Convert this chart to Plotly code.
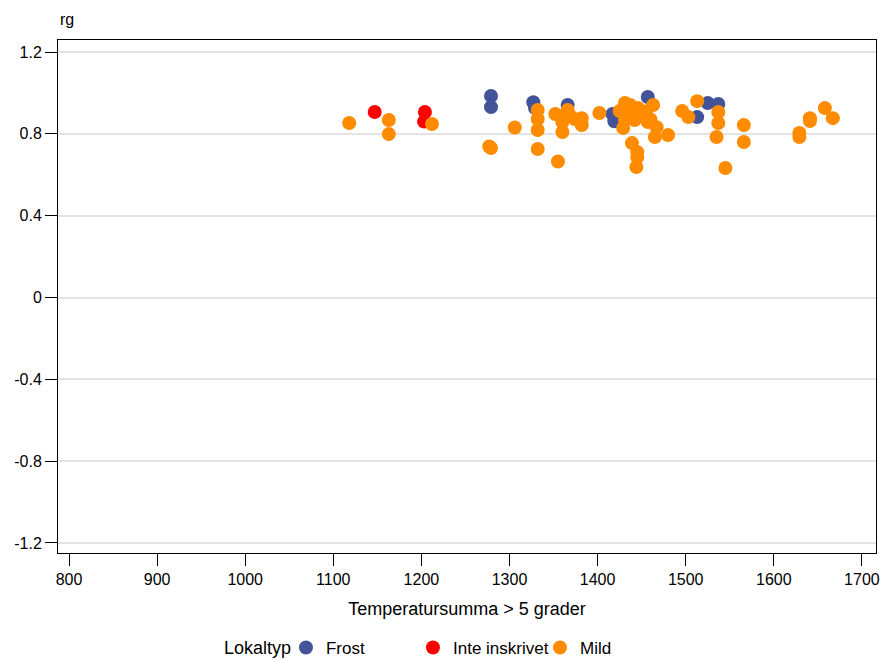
import plotly.graph_objects as go

# Frost
frost_x = [1279, 1279, 1327, 1329, 1366, 1417, 1419, 1457, 1513, 1525, 1537]
frost_y = [0.985, 0.931, 0.955, 0.926, 0.941, 0.897, 0.862, 0.980, 0.882, 0.951, 0.946]

# Inte inskrivet
inte_x = [1147, 1204, 1203]
inte_y = [0.907, 0.907, 0.860]

# Mild
mild_x = [1118, 1163, 1163, 1212, 1279, 1277, 1306, 1332, 1332, 1332, 1332,
          1352, 1355, 1360, 1360, 1366, 1369, 1374, 1382, 1382, 1402,
          1425, 1431, 1437, 1446, 1463, 1431, 1442, 1429, 1457, 1467, 1465,
          1480, 1439, 1445, 1445, 1444, 1433, 1450, 1440, 1455, 1460,
          1496, 1513, 1503, 1537, 1537, 1535, 1545, 1566, 1566,
          1629, 1629, 1641, 1641, 1658, 1667]
mild_y = [0.853, 0.868, 0.799, 0.848, 0.731, 0.738, 0.831, 0.917, 0.873, 0.819, 0.726,
          0.897, 0.665, 0.858, 0.809, 0.917, 0.887, 0.873, 0.877, 0.843, 0.902,
          0.912, 0.951, 0.941, 0.926, 0.941, 0.868, 0.868, 0.829, 0.858, 0.833, 0.785,
          0.794, 0.755, 0.711, 0.687, 0.638, 0.900, 0.890, 0.920, 0.910, 0.870,
          0.912, 0.960, 0.882, 0.907, 0.853, 0.785, 0.633, 0.843, 0.760,
          0.804, 0.785, 0.877, 0.863, 0.926, 0.877]

x_ticks = [800, 900, 1000, 1100, 1200, 1300, 1400, 1500, 1600, 1700]
y_ticks = [-1.2, -0.8, -0.4, 0, 0.4, 0.8, 1.2]
y_labels = ["-1.2", "-0.8", "-0.4", "0", "0.4", "0.8", "1.2"]

font = "Liberation Sans, Arial, sans-serif"
fig = go.Figure()
for name, xs, ys, col in [("Frost", frost_x, frost_y, "#43539A"),
                          ("Inte inskrivet", inte_x, inte_y, "#FF0000"),
                          ("Mild", mild_x, mild_y, "#FF8C00")]:
    fig.add_trace(go.Scatter(x=xs, y=ys, mode="markers", name=name,
                             marker=dict(color=col, size=14, line=dict(width=0))))

fig.update_layout(
    width=885, height=659,
    margin=dict(l=58, r=9, t=40, b=106, autoexpand=False),
    paper_bgcolor="white", plot_bgcolor="white",
    font=dict(family=font, size=16, color="#000000"),
    showlegend=True,
    legend=dict(orientation="h", x=0.2787, xanchor="left",
                yref="container", y=0.0167, yanchor="middle",
                entrywidth=82, font=dict(size=17)),
    xaxis=dict(range=[787.5, 1716], tickvals=x_ticks, ticks="outside", ticklen=12,
               tickcolor="black", showline=True, linecolor="black", linewidth=1,
               mirror=True, showgrid=False, zeroline=False, automargin=False,
               tickfont=dict(size=16),
               title=dict(text="Temperatursumma > 5 grader", standoff=15,
                          font=dict(size=18))),
    yaxis=dict(range=[-1.249, 1.259], tickvals=y_ticks, ticktext=y_labels,
               ticks="outside", ticklen=12, tickcolor="black", showline=True,
               linecolor="black", linewidth=1, mirror=True, showgrid=True,
               gridcolor="#E3E3E3", gridwidth=2, zeroline=False, automargin=False,
               tickfont=dict(size=16)),
    annotations=[dict(text="rg", xref="paper", yref="paper", x=0, y=1,
                      xanchor="center", yanchor="bottom", xshift=9, yshift=10,
                      showarrow=False, font=dict(size=16)),
                 dict(text="Lokaltyp", xref="paper", yref="paper", x=0.2005,
                      y=-0.1852, xanchor="left", yanchor="middle",
                      showarrow=False, font=dict(size=18))],
)
fig.write_html("out.html")
